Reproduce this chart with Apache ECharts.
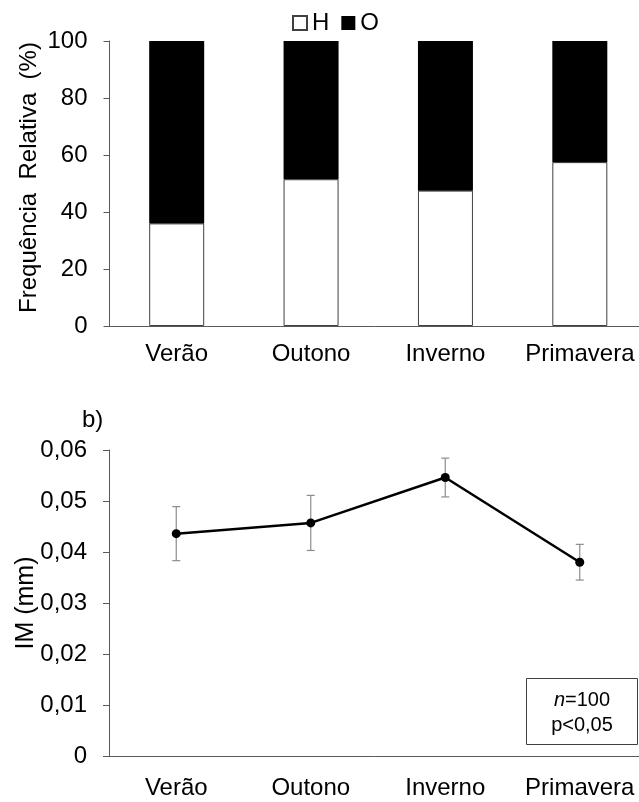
<!DOCTYPE html>
<html>
<head>
<meta charset="utf-8">
<script src="https://cdn.jsdelivr.net/npm/echarts@6/dist/echarts.min.js"></script>
<style>html,body{margin:0;padding:0;background:#fff;}#c{width:639px;height:802px;}</style>
</head>
<body>
<div id="c"></div>
<script>
// ---- data ----
const categories = ['Verão', 'Outono', 'Inverno', 'Primavera'];
const freqH = [36, 51.5, 47.5, 57.5];
const freqO = [64, 48.5, 52.5, 42.5];
const imMean = [0.0436, 0.0457, 0.0546, 0.0380];
const imErr = [0.0053, 0.0054, 0.0038, 0.0035];
const seriesNames = ['H', 'O'];
const annotationLines = ['n=100', 'p<0,05'];

const FONT = 'Liberation Sans, Arial, sans-serif';
const AX = '#595959';
const FS = 24;
const chart = echarts.init(document.getElementById('c'), null, {renderer: 'canvas'});

const errData = categories.map((c, i) => [i, imMean[i] - imErr[i], imMean[i] + imErr[i]]);

chart.setOption({
  animation: false,
  backgroundColor: '#fff',
  textStyle: {fontFamily: FONT, color: '#000'},
  legend: {
    data: seriesNames,
    top: 6, left: 287,
    icon: 'rect', itemWidth: 14, itemHeight: 14, itemGap: 12,
    textStyle: {fontSize: FS, color: '#000', fontFamily: FONT}
  },
  grid: [
    {left: 109.5, top: 41, width: 537.5, height: 285, containLabel: false, outerBoundsMode: 'none'},
    {left: 109, top: 450, width: 538, height: 306, containLabel: false, outerBoundsMode: 'none'}
  ],
  xAxis: [
    {type: 'category', gridIndex: 0, data: categories,
     axisLine: {lineStyle: {color: AX, width: 1}}, axisTick: {show: false},
     axisLabel: {fontSize: FS, color: '#000', margin: 16, fontFamily: FONT, interval: 0, hideOverlap: false}},
    {type: 'category', gridIndex: 1, data: categories,
     axisLine: {lineStyle: {color: AX, width: 1}}, axisTick: {show: false},
     axisLabel: {fontSize: FS, color: '#000', margin: 20, fontFamily: FONT, interval: 0, hideOverlap: false}}
  ],
  yAxis: [
    {type: 'value', gridIndex: 0, min: 0, max: 100, interval: 20,
     name: 'Frequência  Relativa  (%)', nameLocation: 'middle', nameGap: 68, nameMoveOverlap: false,
     nameTextStyle: {fontSize: FS, color: '#000', fontFamily: FONT, padding: [0, 0, 0, 12]},
     axisLine: {show: true, lineStyle: {color: AX}},
     axisTick: {show: true, length: 6, lineStyle: {color: AX}},
     splitLine: {show: false},
     axisLabel: {fontSize: FS, color: '#000', margin: 22, fontFamily: FONT}},
    {type: 'value', gridIndex: 1, min: 0, max: 0.06, interval: 0.01,
     name: 'IM (mm)', nameLocation: 'middle', nameGap: 70, nameMoveOverlap: false,
     nameTextStyle: {fontSize: 25, color: '#000', fontFamily: FONT},
     axisLine: {show: true, lineStyle: {color: AX}},
     axisTick: {show: true, length: 6, lineStyle: {color: AX}},
     splitLine: {show: false},
     axisLabel: {fontSize: FS, color: '#000', margin: 22, fontFamily: FONT,
       formatter: v => v === 0 ? '0' : v.toFixed(2).replace('.', ',')}}
  ],
  series: [
    {name: 'H', type: 'bar', stack: 'f', xAxisIndex: 0, yAxisIndex: 0, data: freqH, barWidth: 55,
     itemStyle: {color: '#fff', borderColor: '#404040', borderWidth: 1}},
    {name: 'O', type: 'bar', stack: 'f', xAxisIndex: 0, yAxisIndex: 0, data: freqO, barWidth: 55,
     itemStyle: {color: '#000', borderColor: '#000', borderWidth: 0}},
    {name: 'err', type: 'custom', xAxisIndex: 1, yAxisIndex: 1, data: errData, z: 2,
     renderItem: function (params, api) {
       const x = api.value(0);
       const lo = api.coord([x, api.value(1)]);
       const hi = api.coord([x, api.value(2)]);
       const cap = 4;
       const st = {stroke: '#8c8c8c', lineWidth: 1.2};
       return {type: 'group', children: [
         {type: 'line', shape: {x1: hi[0], y1: hi[1], x2: lo[0], y2: lo[1]}, style: st},
         {type: 'line', shape: {x1: hi[0] - cap, y1: hi[1], x2: hi[0] + cap, y2: hi[1]}, style: st},
         {type: 'line', shape: {x1: lo[0] - cap, y1: lo[1], x2: lo[0] + cap, y2: lo[1]}, style: st}
       ]};
     }},
    {name: 'IM', type: 'line', xAxisIndex: 1, yAxisIndex: 1, data: imMean, z: 3,
     symbol: 'circle', symbolSize: 9,
     lineStyle: {color: '#000', width: 2.5}, itemStyle: {color: '#000'}}
  ],
  graphic: [
    {type: 'text', left: 82, top: 408,
     style: {text: 'b)', fontSize: FS, fill: '#000', fontFamily: FONT}},
    {type: 'rect', left: 526, top: 678, z: 10,
     shape: {width: 111, height: 66},
     style: {fill: '#fff', stroke: '#404040', lineWidth: 1}},
    {type: 'text', z: 11, x: 582, y: 700,
     style: {text: '{i|' + annotationLines[0].slice(0, 1) + '}' + annotationLines[0].slice(1),
       rich: {i: {fontStyle: 'italic', fontSize: 20, fontFamily: FONT, fill: '#000'}},
       fontSize: 20, fill: '#000', fontFamily: FONT, align: 'center', verticalAlign: 'middle'}},
    {type: 'text', z: 11, x: 582, y: 725,
     style: {text: annotationLines[1], fontSize: 20, fill: '#000', fontFamily: FONT,
       align: 'center', verticalAlign: 'middle'}}
  ]
});
</script>
</body>
</html>
